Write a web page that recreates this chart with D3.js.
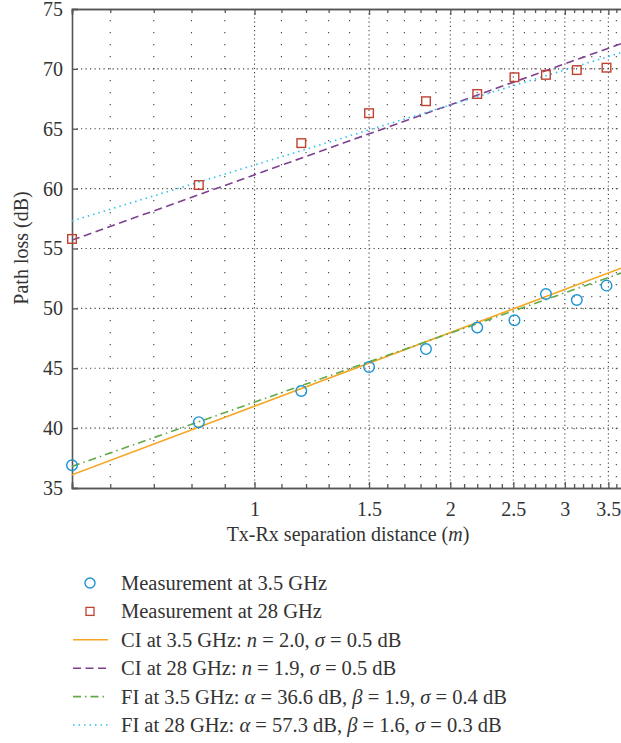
<!DOCTYPE html>
<html>
<head>
<meta charset="utf-8">
<script src="https://cdn.jsdelivr.net/npm/d3@7"></script>
<style>
  body { margin: 0; background: #fff; }
  svg { display: block; }
  text { font-family: "Liberation Serif", "DejaVu Serif", serif; fill: #333; }
</style>
</head>
<body>
<script>
// measured points
const dist = [0.524, 0.821, 1.18, 1.5, 1.835, 2.2, 2.51, 2.806, 3.13, 3.477]
const pl35 = [36.9, 40.5, 43.1, 45.1, 46.6, 48.4, 49.0, 51.2, 50.7, 51.9]
const pl28 = [55.8, 60.3, 63.8, 66.3, 67.3, 67.9, 69.3, 69.5, 69.9, 70.1]

// fitted model lines, read at both ends of the x range
const fitD = [0.524, 3.66]
const ci35 = [36.1, 53.35]
const ci28 = [55.7, 72.1]
const fi35 = [36.8, 52.95]
const fi28 = [57.3, 71.35]

const xMajor = [1, 1.5, 2, 2.5, 3, 3.5]
const xMinor = [0.6, 0.7, 0.8, 0.9, 1.1, 1.2, 1.3, 1.4, 1.6, 1.7, 1.8, 1.9,
                2.1, 2.2, 2.3, 2.4, 2.6, 2.7, 2.8, 2.9, 3.1, 3.2, 3.3, 3.4, 3.6]
const yTicks = [35, 40, 45, 50, 55, 60, 65, 70, 75]

const width = 621
const height = 743
const m = {left: 72, top: 9, right: 621, bottom: 488}

const svg = d3.select('body').append('svg')
    .attr('width', width)
    .attr('height', height)

const x = d3.scaleLog().domain([0.524, 3.66]).range([m.left, m.right])
const y = d3.scaleLinear().domain([35, 75]).range([m.bottom, m.top])

svg.append('clipPath').attr('id', 'clip')
    .append('rect')
    .attr('x', m.left).attr('y', m.top)
    .attr('width', m.right - m.left).attr('height', m.bottom - m.top)

// grid
const grid = svg.append('g')
grid.selectAll('line.minor').data(xMinor).enter().append('line')
    .attr('x1', d => x(d)).attr('x2', d => x(d))
    .attr('y1', m.top).attr('y2', m.bottom)
    .attr('stroke', '#444').attr('stroke-width', 1.1)
    .attr('stroke-dasharray', '1.2,10.8')
    .attr('stroke-dashoffset', -11)
grid.selectAll('line.major').data(xMajor).enter().append('line')
    .attr('x1', d => x(d)).attr('x2', d => x(d))
    .attr('y1', m.top).attr('y2', m.bottom)
    .attr('stroke', '#444').attr('stroke-width', 1.1)
    .attr('stroke-dasharray', '1.2,3')
grid.selectAll('line.h').data(yTicks.slice(1, -1)).enter().append('line')
    .attr('x1', m.left).attr('x2', m.right)
    .attr('y1', d => y(d)).attr('y2', d => y(d))
    .attr('stroke', '#444').attr('stroke-width', 1.1)
    .attr('stroke-dasharray', '1.2,3.3')

// axes
svg.append('g').attr('transform', `translate(0,${m.bottom})`)
    .call(d3.axisBottom(x).tickValues(xMajor).tickSize(-6).tickPadding(14)
        .tickFormat(d3.format('~g')))
svg.append('g').attr('transform', `translate(0,${m.bottom})`)
    .call(d3.axisBottom(x).tickValues(xMinor).tickSize(-4).tickFormat(''))
svg.append('g').attr('transform', `translate(0,${m.top})`)
    .call(d3.axisTop(x).tickValues(xMajor).tickSize(-6).tickFormat(''))
svg.append('g').attr('transform', `translate(0,${m.top})`)
    .call(d3.axisTop(x).tickValues(xMinor).tickSize(-4).tickFormat(''))
svg.append('g').attr('transform', `translate(${m.left},0)`)
    .call(d3.axisLeft(y).tickValues(yTicks).tickSize(-6).tickPadding(9))

svg.selectAll('.domain').attr('stroke', '#555').attr('stroke-width', 1.6)
svg.selectAll('.tick line').attr('stroke', '#555').attr('stroke-width', 1.3)
svg.selectAll('.tick text').attr('font-size', 20).attr('fill', '#333')
    .style('font-family', '"Liberation Serif", serif')
// drop the right-hand end caps of the domain paths
svg.selectAll('.domain').attr('d', function () {
    return d3.select(this).attr('d').replace(/V[-\d.]+$/, '')
})

svg.append('text')
    .attr('x', 348).attr('y', 541)
    .attr('text-anchor', 'middle')
    .attr('font-size', 20)
    .html('Tx-Rx separation distance (<tspan font-style="italic">m</tspan>)')

svg.append('text')
    .attr('transform', 'translate(28,248) rotate(-90)')
    .attr('text-anchor', 'middle')
    .attr('font-size', 20)
    .text('Path loss (dB)')

// series
const series = [
    {name: 'ci35', vals: ci35, color: '#f5a623', dash: null},
    {name: 'ci28', vals: ci28, color: '#7e3f8f', dash: '8,4.5'},
    {name: 'fi35', vals: fi35, color: '#62a94a', dash: '8,4,1.5,4'},
    {name: 'fi28', vals: fi28, color: '#2ec0f0', dash: '1.5,4'}
]
const line = d3.line().x(d => x(d[0])).y(d => y(d[1]))
const plot = svg.append('g').attr('clip-path', 'url(#clip)')
series.forEach(s => {
    plot.append('path')
        .attr('d', line(fitD.map((d, i) => [d, s.vals[i]])))
        .attr('fill', 'none')
        .attr('stroke', s.color)
        .attr('stroke-width', 1.6)
        .attr('stroke-dasharray', s.dash)
})

svg.selectAll('circle.pt35').data(dist).enter().append('circle')
    .attr('class', 'pt35')
    .attr('cx', d => x(d))
    .attr('cy', (d, i) => y(pl35[i]))
    .attr('r', 5.3)
    .attr('fill', 'none')
    .attr('stroke', '#1b93d3')
    .attr('stroke-width', 1.4)

svg.selectAll('rect.pt28').data(dist).enter().append('rect')
    .attr('class', 'pt28')
    .attr('x', d => x(d) - 4.3)
    .attr('y', (d, i) => y(pl28[i]) - 4.3)
    .attr('width', 8.6).attr('height', 8.6)
    .attr('fill', 'none')
    .attr('stroke', '#c0412e')
    .attr('stroke-width', 1.4)

// legend
const legendY = i => 583 + 28.4 * i
const leg = svg.append('g')
leg.append('circle').attr('cx', 90).attr('cy', legendY(0)).attr('r', 5)
    .attr('fill', 'none').attr('stroke', '#1b93d3').attr('stroke-width', 1.4)
leg.append('rect').attr('x', 86).attr('y', legendY(1) - 4).attr('width', 8).attr('height', 8)
    .attr('fill', 'none').attr('stroke', '#c0412e').attr('stroke-width', 1.3)
series.forEach((s, i) => {
    leg.append('line')
        .attr('x1', 73).attr('x2', 108)
        .attr('y1', legendY(i + 2)).attr('y2', legendY(i + 2))
        .attr('stroke', s.color).attr('stroke-width', 1.6)
        .attr('stroke-dasharray', s.dash)
})
const it = t => `<tspan font-style="italic">${t}</tspan>`
const labels = [
    'Measurement at 3.5 GHz',
    'Measurement at 28 GHz',
    `CI at 3.5 GHz: ${it('n')} = 2.0, ${it('σ')} = 0.5 dB`,
    `CI at 28 GHz: ${it('n')} = 1.9, ${it('σ')} = 0.5 dB`,
    `FI at 3.5 GHz: ${it('α')} = 36.6 dB, ${it('β')} = 1.9, ${it('σ')} = 0.4 dB`,
    `FI at 28 GHz: ${it('α')} = 57.3 dB, ${it('β')} = 1.6, ${it('σ')} = 0.3 dB`
]
labels.forEach((t, i) => {
    leg.append('text')
        .attr('x', 121).attr('y', legendY(i) + 7)
        .attr('font-size', 20.5)
        .html(t)
})
</script>
</body>
</html>
